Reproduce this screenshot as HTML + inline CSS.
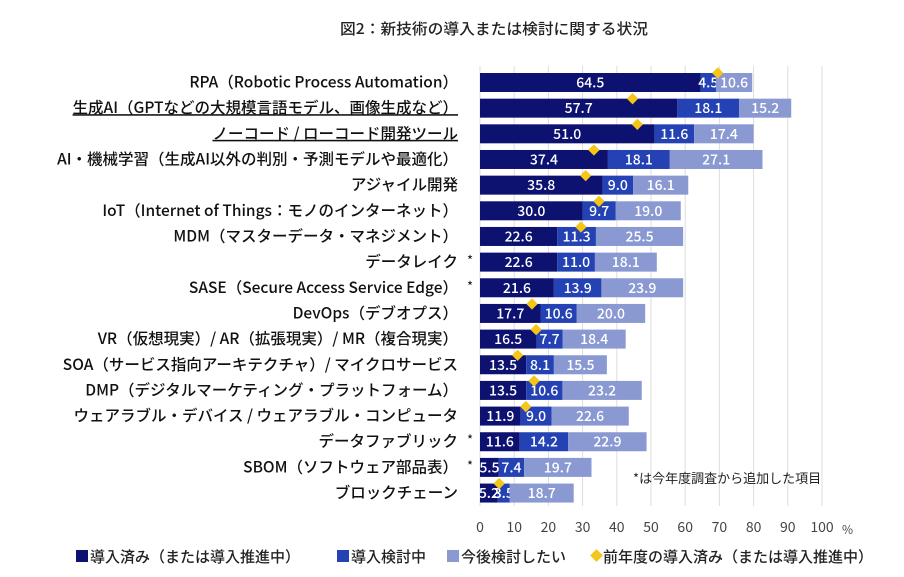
<!DOCTYPE html>
<html><head><meta charset="utf-8"><style>
body{margin:0;background:#fff;}
svg{display:block;font-family:"Noto Sans CJK JP","Liberation Sans",sans-serif;}
</style></head><body>
<svg width="904" height="577" viewBox="0 0 904 577" xmlns="http://www.w3.org/2000/svg">
<text x="340" y="34" font-size="15" font-weight="500" textLength="308" lengthAdjust="spacingAndGlyphs" fill="#222">図2：新技術の導入または検討に関する状況</text>
<g id="grid" stroke="#ddd" stroke-width="1"></g>
<g id="bars"></g>
<text x="633" y="483" font-size="13" fill="#222">*は今年度調査から追加した項目</text>
<g font-size="14" fill="#444" text-anchor="middle" id="ax"></g>
<text x="842" y="534" font-size="12" fill="#444">%</text>
<g font-size="15" fill="#222" font-weight="500">
<rect x="76" y="550" width="12" height="12" fill="#0d1270"/><text x="90" y="562">導入済み（または導入推進中）</text>
<rect x="337" y="550" width="12" height="12" fill="#2442b3"/><text x="351" y="562">導入検討中</text>
<rect x="447" y="550" width="12" height="12" fill="#8a99d2"/><text x="461" y="562">今後検討したい</text>
<rect x="592" y="551" width="9" height="9" fill="#f5c518" transform="rotate(45 596.5 555.5)"/><text x="603" y="562">前年度の導入済み（または導入推進中）</text>
</g>
<script>
const d=[
["RPA（Robotic Process Automation）",64.5,4.5,10.6,69.5,0,0],
["生成AI（GPTなどの大規模言語モデル、画像生成など）",57.7,18.1,15.2,44.6,0,1],
["ノーコード / ローコード開発ツール",51.0,11.6,17.4,46,0,1],
["AI・機械学習（生成AI以外の判別・予測モデルや最適化）",37.4,18.1,27.1,33.3,0,0],
["アジャイル開発",35.8,9.0,16.1,30.9,0,0],
["IoT（Internet of Things：モノのインターネット）",30.0,9.7,19.0,34.8,0,0],
["MDM（マスターデータ・マネジメント）",22.6,11.3,25.5,29.5,0,0],
["データレイク",22.6,11.0,18.1,null,1,0],
["SASE（Secure Access Service Edge）",21.6,13.9,23.9,null,1,0],
["DevOps（デブオプス）",17.7,10.6,20.0,15.2,0,0],
["VR（仮想現実）/ AR（拡張現実）/ MR（複合現実）",16.5,7.7,18.4,16.4,0,0],
["SOA（サービス指向アーキテクチャ）/ マイクロサービス",13.5,8.1,15.5,11,0,0],
["DMP（デジタルマーケティング・プラットフォーム）",13.5,10.6,23.2,15.8,0,0],
["ウェアラブル・デバイス / ウェアラブル・コンピュータ",11.9,9.0,22.6,13.4,0,0],
["データファブリック",11.6,14.2,22.9,null,1,0],
["SBOM（ソフトウェア部品表）",5.5,7.4,19.7,null,1,0],
["ブロックチェーン",5.2,3.5,18.7,5.6,0,0]];
const NS="http://www.w3.org/2000/svg",X0=480,S=3.42;
function el(p,t,a,txt){const e=document.createElementNS(NS,t);for(const k in a)e.setAttribute(k,a[k]);if(txt!=null)e.textContent=txt;p.appendChild(e);return e;}
const g=document.getElementById("grid"),b=document.getElementById("bars"),ax=document.getElementById("ax");
for(let i=0;i<=10;i++){const x=X0+i*10*S;el(g,"line",{x1:x,x2:x,y1:66,y2:506});el(ax,"text",{x:x,y:532},String(i*10));}
const cols=["#0d1270","#2442b3","#8a99d2"];
d.forEach((r,i)=>{const cy=82.5+i*25.66,y=cy-9.5;let x=X0;
el(b,"text",{x:458,y:cy+5,"font-size":15.5,"text-anchor":"end",fill:"#111","font-weight":"500","text-decoration":r[6]?"underline":"none"},r[0]);
if(r[5])el(b,"text",{x:467,y:cy+3,"font-size":13,fill:"#111"},"*");
for(let k=0;k<3;k++){const w=r[k+1]*S;el(b,"rect",{x:x,y:y,width:w,height:19,fill:cols[k]});
el(b,"text",{x:x+w/2,y:cy+5,"font-size":14,"text-anchor":"middle",fill:"#fff","font-weight":"500"},r[k+1].toFixed(1));x+=w;}
if(r[4]!=null){const px=X0+r[4]*S;el(b,"rect",{x:px-4,y:y-4,width:8,height:8,fill:"#f5c518",transform:`rotate(45 ${px} ${y})`});}
});
</script>
</svg>
</body></html>
